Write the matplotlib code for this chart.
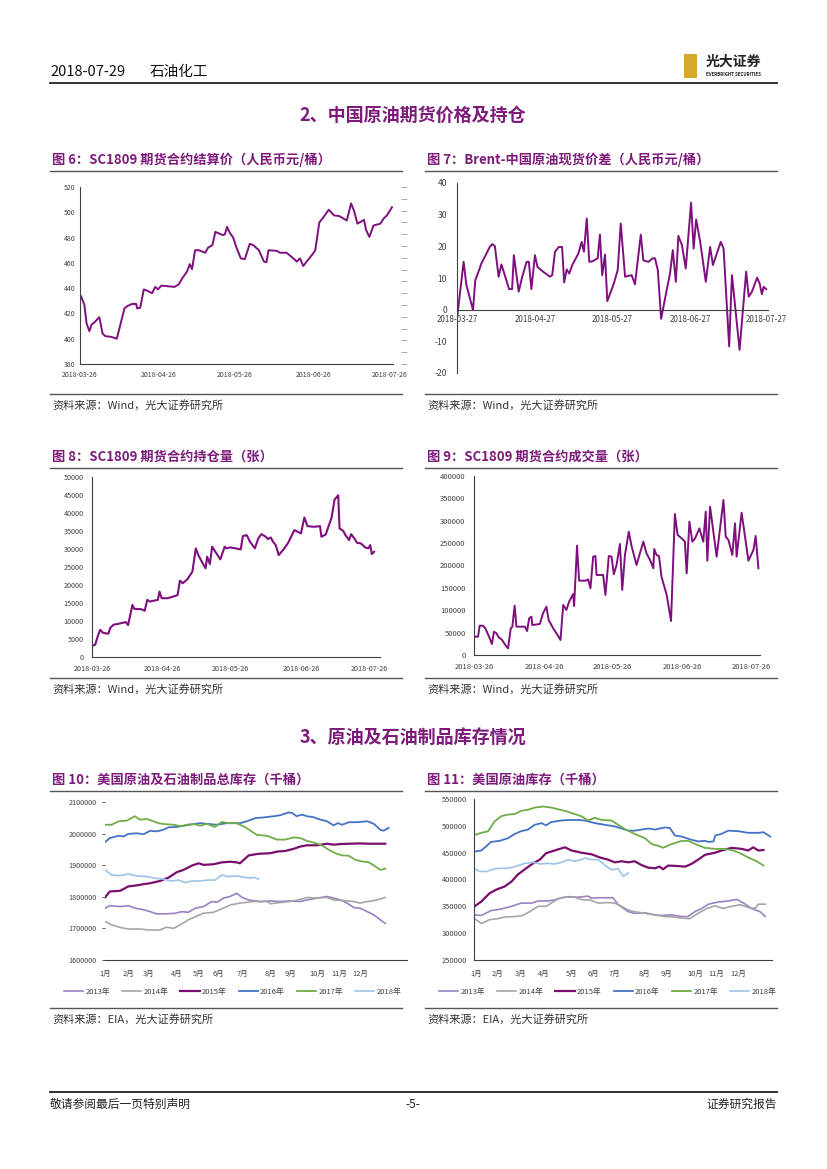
import pandas as pd
import matplotlib
matplotlib.use('Agg')
import matplotlib.pyplot as plt
from matplotlib.lines import Line2D
from matplotlib.patches import Rectangle
from matplotlib.ticker import StrMethodFormatter

plt.rcParams['font.family'] = ['Noto Sans CJK SC', 'DejaVu Sans']
plt.rcParams['axes.unicode_minus'] = False

# ---------------- data ----------------
# fig 6: SC1809 settlement price, days since 2018-03-26
days6 = [0.4, 1.7, 2.6, 3.7, 4.5, 5.7, 7.6, 8.9, 10, 12.2, 14.5, 15.5, 17.5, 18.8, 20.5, 22.1, 22.5, 23.7,
         25.1, 26.4, 28.4, 29.6, 30.7, 32, 37.2, 38.9, 40.3, 42.1, 43.2, 44.1, 45.3, 46.8, 49.3, 50.4, 52.1,
         53.3, 56.1, 57, 57.9, 58.9, 60.3, 61.6, 63.3, 64.9, 66.8, 68.2, 70.4, 72.4, 73.4, 74.2, 77.4, 78.7,
         81.3, 84.6, 85.3, 86.6, 87.9, 89.2, 90.8, 91.8, 92.6, 94.2, 95.8, 97.9, 100, 102.1, 105, 106.7,
         107.9, 109.2, 111.8, 112.6, 113.9, 115.5, 118.2, 119.5, 120.8, 122.8]
price6 = [433.5, 427, 412, 406, 411, 413, 417, 404, 402, 401.5, 400, 408, 424, 426, 427.5, 427.5, 424, 424.5,
          439, 438, 436, 441, 439, 442, 441, 443, 448, 453, 459, 455, 470, 470, 468, 472, 474,
          484.5, 482, 482.5, 488.5, 484, 480, 472, 463.5, 463, 475, 474, 470, 461, 460.5, 470, 469.5, 468,
          468, 462.5, 461, 463.5, 457.5, 461, 465, 467.5, 470, 492, 496, 502, 497.5, 497, 493.5, 507,
          501, 491, 494, 486, 480.5, 489.5, 491, 495, 497.5, 504]
ticks6 = ['2018-03-26', '2018-04-26', '2018-05-26', '2018-06-26', '2018-07-26']

# fig 7: Brent - China crude spot spread, days since 2018-03-27
days7 = [0.1, 2.6, 3.7, 6.3, 7.2, 8.7, 9.6, 11.6, 12.9, 13.9, 14.9, 16.4, 17.5, 19.2, 20.5, 21.7, 22.4,
         24.3, 25.7, 27.4, 28.3, 29.3, 30.7, 31.7, 33.9, 36.6, 37.5, 38.6, 40.1, 41.4, 42.2, 43.2, 44.2,
         45.4, 46.4, 47.8, 49.1, 50, 51.1, 52.1, 53.4, 55.4, 56.3, 57.2, 58.3, 59.2, 61.6, 63.3, 64.5,
         66.2, 68.8, 70.1, 72.4, 73.4, 75.4, 77, 78, 79.1, 80.4, 82.6, 83.9, 85, 86.2, 87.2, 88.6, 90.1,
         92.2, 93.2, 94.2, 95.8, 98, 99.7, 100.8, 103.9, 105, 107.2, 108.3, 111.3, 112.9, 113.9, 114.9,
         116.2, 118.2, 119.2, 120.1, 120.8, 121.8]
spread7 = [-2.2, 15.1, 7.8, -0.1, 9.3, 12.5, 14.6, 17.7, 19.8, 20.7, 20.1, 10.4, 14.3, 9.9, 6.5, 6.5, 17.2,
           5.7, 10.4, 15.1, 15.1, 6.5, 17.2, 13.5, 12, 10.4, 10.9, 18.3, 19.8, 19.8, 8.6, 12.7, 11.4,
           14.1, 15.6, 17.7, 21.4, 18.3, 28.8, 15.1, 15.3, 16.2, 23.7, 10.9, 17.4, 2.7, 7.8, 12.5, 27.2,
           10.4, 10.9, 8, 23.7, 15.6, 15.1, 16.2, 16.2, 12.5, -2.9, 6.2, 11.4, 18.8, 8.8, 23.3, 20.4, 13,
           33.8, 19.3, 28.5, 21.4, 8.8, 19.8, 14.1, 21.4, 19.3, -11.6, 10.9, -12.7, 2.5, 12, 4.1,
           5.7, 10.1, 8.3, 4.9, 7.2, 6.5]
ticks7 = ['2018-03-27', '2018-04-27', '2018-05-27', '2018-06-27', '2018-07-27']

# fig 8: SC1809 open interest, days since 2018-03-26
days8 = [0.3, 1.4, 2.5, 3.6, 4.6, 5.8, 7.2, 8, 9.4, 11.6, 14.9, 15.9, 17.8, 18.6, 21.7, 23.2, 24.3, 25.4,
         27.5, 29, 29.7, 30.7, 33.3, 36.7, 37.7, 38.7, 39.9, 42, 44.2, 45.7, 46.8, 48.6, 50, 50.7, 51.9,
         52.9, 54.3, 56.5, 58.4, 59.1, 60.9, 65.5, 66.4, 68.1, 69.6, 71.7, 73.2, 74.6, 76.5, 77.5, 78.7,
         79.7, 80.9, 82.2, 84.1, 86.2, 89.1, 92, 93.5, 94.9, 97.8, 100.4, 101, 102.9, 105.5, 106.8, 108.4,
         109, 110.6, 111.6, 113.2, 114.1, 115.5, 116.7, 118.4, 120.3, 121.7, 122.5, 123.2, 124.2]
oi8 = [3140, 3400, 5700, 7560, 6800, 6600, 6460, 8030, 8950, 9220, 9690, 8860, 14480, 13380, 13280, 12820,
       15870, 15400, 15680, 15870, 18170, 16330, 16330, 16970, 17250, 21220, 20480, 21590, 23710, 30170,
       28320, 26200, 24630, 27860, 25830, 30630, 29240, 27120, 30630, 30170, 30440, 29890, 33580, 33860,
       32010, 30170, 32930, 34130, 33400, 32750, 33210, 32010, 31090, 28320, 29700, 31550, 35240, 34320,
       38740, 36350, 36170, 36350, 33400, 34040, 38740, 43730, 44920, 35700, 35050, 33860, 32470, 34130,
       32930, 31730, 31550, 30440, 30170, 31090, 28600, 29240]
ticks8 = ['2018-03-26', '2018-04-26', '2018-05-26', '2018-06-26', '2018-07-26']

# fig 9: SC1809 volume, days since 2018-03-26
days9 = [0.3, 1.8, 2.5, 4, 5, 6.5, 7.9, 8.8, 9.9, 10.9, 12.4, 13.8, 15, 16.2, 16.9, 17.9, 18.7, 22.4, 23.4,
         24.3, 25.3, 25.7, 29, 30.4, 31.9, 32.9, 34.9, 36.8, 38.1, 39.3, 40.7, 41.9, 43.7, 44.1, 45.4, 46.3,
         49.3, 50.3, 51.3, 52.5, 53.5, 54, 56.9, 57.9, 59.4, 60.6, 61.6, 62.8, 64.3, 65.3, 66.5, 68.2, 69.4,
         71.6, 74.6, 76, 77.9, 79, 79.4, 80.4, 81.5, 82.6, 84.9, 86.8, 88.5, 89.7, 91.5, 92.9, 93.7, 94.9,
         96.2, 97.4, 99.3, 101, 102.1, 102.8, 104, 106.9, 109.9, 110.9, 112.1, 113.8, 115, 115.7, 117.9,
         120.9, 123.1, 124.1, 125.3]
vol9 = [41000, 41000, 65500, 65500, 59600, 42500, 24600, 52100, 48400, 39500, 33500, 22300, 14900, 59600,
        63300, 110200, 63300, 63300, 53600, 81900, 85700, 67000, 69300, 93100, 108000, 78200, 59600, 44700,
        33500, 111700, 100600, 119200, 136300, 109500, 244300, 166100, 166100, 169100, 149000, 219700,
        221200, 178800, 178800, 134100, 221200, 219700, 180300, 201100, 248000, 145300, 223500, 275600,
        243600, 201100, 253300, 227200, 208600, 193700, 236900, 223500, 221200, 175000, 134100, 76000,
        315100, 268200, 260700, 253300, 182500, 298000, 253300, 260700, 283100, 253300, 320300, 210800,
        331500, 219700, 346400, 264400, 257000, 223500, 294200, 219700, 318100, 210800, 234600, 265900,
        193700]
ticks9 = ['2018-03-26', '2018-04-26', '2018-05-26', '2018-06-26', '2018-07-26']

# fig 10: US crude + products total stocks (千桶), x = week of year
years = ['2013年', '2014年', '2015年', '2016年', '2017年', '2018年']
wk10_2013 = [0, 0.9, 2.8, 4.3, 5.5, 7.1, 8.3, 9.5, 11.3, 12.9, 14.1, 15.3, 16.6, 18.1, 19.6, 20.6, 21.8, 23,
             24.2, 25.2, 26.4, 28.5, 30.4, 32.2, 34, 35.9, 37.1, 39, 40.8, 42, 43.3, 44.5, 45.7, 46.9, 48.2,
             49.4, 50.6, 51.5]
st10_2013 = [1764000, 1772000, 1769000, 1772000, 1764000, 1759000, 1753000, 1746000, 1746000, 1748000,
             1753000, 1751000, 1764000, 1769000, 1785000, 1783000, 1796000, 1801000, 1811000, 1798000,
             1790000, 1785000, 1787000, 1785000, 1787000, 1785000, 1790000, 1796000, 1801000, 1796000,
             1790000, 1780000, 1766000, 1764000, 1753000, 1743000, 1727000, 1716000]
wk10_2014 = [0, 1.2, 2.8, 4.3, 6.4, 8, 10.1, 11.3, 12.6, 13.8, 15.3, 16.6, 18.1, 19.9, 21.5, 23, 24.8, 27.3,
             29.8, 30.4, 32.2, 34, 35.9, 37.1, 39, 40.8, 42, 43.9, 45.7, 46.9, 48.2, 49.4, 50.6, 51.5]
st10_2014 = [1722000, 1711000, 1703000, 1698000, 1698000, 1695000, 1695000, 1704000, 1700000, 1711000,
             1727000, 1737000, 1748000, 1751000, 1762000, 1774000, 1780000, 1785000, 1785000, 1778000,
             1782000, 1785000, 1792000, 1798000, 1796000, 1798000, 1790000, 1788000, 1785000, 1780000,
             1785000, 1788000, 1793000, 1798000]
wk10_2015 = [0, 0.9, 2.8, 4.3, 5.8, 7.1, 8.3, 10.1, 11.7, 13.2, 14.4, 16, 17.2, 18.1, 19.9, 21.5, 23, 24.2,
             24.8, 26.4, 28.2, 30.4, 31.6, 33.1, 34.7, 35.9, 37.1, 39, 40.8, 42, 43.3, 45.1, 46.9, 48.5, 50,
             51.5]
st10_2015 = [1798000, 1817000, 1819000, 1833000, 1836000, 1840000, 1843000, 1850000, 1861000, 1878000,
             1885000, 1899000, 1906000, 1901000, 1903000, 1909000, 1911000, 1909000, 1906000, 1931000,
             1936000, 1938000, 1943000, 1945000, 1952000, 1959000, 1963000, 1963000, 1968000, 1965000,
             1967000, 1968000, 1969000, 1968000, 1968000, 1968000]
wk10_2016 = [0, 0.9, 2.5, 3.4, 4.3, 5.8, 7.1, 8.3, 9.5, 10.7, 11.7, 13.2, 14.4, 16.3, 17.5, 19.3, 20.6, 22.4,
             24.8, 26.1, 27.6, 29.1, 31, 32.2, 33.7, 34.4, 35.2, 36.2, 37.1, 38.3, 39.6, 40.8, 42, 42.8, 43.6,
             44.8, 46.3, 48.2, 49.4, 50.6, 51.2, 52.1]
st10_2016 = [1973000, 1986000, 1993000, 1991000, 1999000, 2001000, 1998000, 2009000, 2007000, 2012000,
             2020000, 2021000, 2025000, 2030000, 2033000, 2030000, 2028000, 2033000, 2033000, 2039000,
             2049000, 2051000, 2055000, 2058000, 2067000, 2065000, 2055000, 2060000, 2055000, 2052000,
             2044000, 2039000, 2026000, 2033000, 2028000, 2036000, 2036000, 2039000, 2031000, 2012000,
             2009000, 2018000]
wk10_2017 = [0, 1.2, 2.5, 4, 5.5, 6.4, 7.7, 8.9, 9.8, 11, 12.6, 14.1, 15, 16.3, 17.5, 18.7, 20.2, 21.5, 22.7,
             24.2, 25.8, 27.9, 29.8, 31.6, 33.1, 34.7, 35.9, 37.1, 38.7, 39.9, 41.1, 42.3, 43.6, 44.8, 46,
             47.2, 48.5, 49.7, 50.6, 51.5]
st10_2017 = [2028000, 2028000, 2039000, 2041000, 2055000, 2044000, 2046000, 2039000, 2033000, 2030000,
             2028000, 2023000, 2028000, 2030000, 2025000, 2031000, 2021000, 2037000, 2033000, 2033000,
             2020000, 1996000, 1993000, 1981000, 1981000, 1988000, 1986000, 1977000, 1970000, 1962000,
             1949000, 1938000, 1931000, 1930000, 1917000, 1912000, 1909000, 1896000, 1885000, 1889000]
wk10_2018 = [0, 1.2, 2.8, 4.3, 5.8, 7.7, 9.2, 10.7, 12.3, 13.5, 14.7, 16, 17.5, 19, 20.2, 21.5, 22.7, 24.2,
             25.5, 26.7, 27.3, 28.2]
st10_2018 = [1885000, 1869000, 1867000, 1872000, 1866000, 1864000, 1859000, 1856000, 1850000, 1853000,
             1845000, 1850000, 1850000, 1853000, 1853000, 1869000, 1864000, 1866000, 1862000, 1859000,
             1862000, 1856000]
months = ['1月', '2月', '3月', '4月', '5月', '6月', '7月', '8月', '9月', '10月', '11月', '12月']
month_wk10 = [0, 4.3, 8, 13.2, 17.2, 20.9, 25.2, 30.4, 34, 39, 43, 47]

# fig 11: US crude stocks (千桶)
wk11_2013 = [0, 1.2, 2.9, 4.7, 6.5, 8.2, 10, 11.2, 12.9, 14.1, 15.3, 16.5, 18.2, 20, 20.6, 21.8, 22.9, 24.4,
             25.3, 27.1, 28.2, 30, 31.8, 32.9, 34.7, 36.5, 37.6, 38.8, 40, 41.2, 42.9, 44.7, 46.2, 47.4, 48.8,
             50.3, 51.2]
st11_2013 = [334000, 333000, 342000, 345000, 350000, 356000, 356000, 360000, 360000, 362000, 366000, 368000,
             367000, 369000, 365000, 366000, 366000, 366000, 353000, 340000, 337000, 338000, 334000, 333000,
             334000, 331000, 331000, 340000, 346000, 354000, 358000, 360000, 363000, 356000, 346000, 340000,
             331000]
wk11_2014 = [0, 1.2, 2.6, 4.1, 5.3, 7.1, 8.5, 9.7, 11.2, 12.6, 13.5, 14.7, 15.9, 17.6, 19.1, 20.3, 21.8, 23.5,
             24.7, 25.9, 27.1, 28.2, 30, 31.8, 33.5, 35.3, 36.5, 37.9, 39.4, 40.9, 42.4, 43.8, 45.3, 46.8, 48.2,
             49.4, 50, 51.2]
st11_2014 = [327000, 318000, 325000, 327000, 330000, 331000, 333000, 340000, 350000, 350000, 356000, 364000,
             367000, 367000, 362000, 362000, 356000, 357000, 356000, 350000, 343000, 340000, 337000, 334000,
             331000, 330000, 328000, 327000, 337000, 346000, 351000, 346000, 350000, 353000, 348000, 346000,
             354000, 354000]
wk11_2015 = [0, 1.2, 2.6, 3.8, 5.3, 6.5, 7.6, 9.1, 10.3, 11.5, 12.6, 14.1, 15.9, 17.1, 18.8, 20.6, 22.1, 23.5,
             24.7, 25.9, 27.1, 28.2, 29.4, 30.6, 31.8, 32.6, 33.2, 34.1, 35.9, 37.1, 38.2, 39.4, 40.6, 42.4,
             43.8, 45.3, 47.1, 48.2, 49.1, 50, 50.9]
st11_2015 = [350000, 359000, 374000, 381000, 387000, 396000, 409000, 421000, 430000, 437000, 449000, 454000,
             460000, 454000, 450000, 447000, 441000, 437000, 432000, 434000, 432000, 434000, 427000, 422000,
             421000, 424000, 419000, 426000, 425000, 424000, 429000, 437000, 446000, 450000, 455000, 459000,
             457000, 454000, 460000, 454000, 455000]
wk11_2016 = [0, 1.2, 2.9, 4.4, 5.9, 7.1, 8.2, 9.4, 10.6, 11.8, 12.6, 13.5, 15.3, 16.8, 18.2, 19.4, 21.2, 22.9,
             24.7, 25.9, 27.1, 28.2, 30.6, 31.8, 33.5, 34.4, 35.3, 36.5, 38.2, 39.4, 40.6, 41.2, 42.1, 42.4,
             43.5, 44.7, 46.5, 48.2, 50, 50.9, 52.1]
st11_2016 = [452000, 454000, 470000, 472000, 477000, 485000, 490000, 493000, 502000, 505000, 501000, 507000,
             510000, 511000, 511000, 510000, 505000, 502000, 499000, 495000, 491000, 491000, 495000, 493000,
             497000, 496000, 482000, 480000, 474000, 471000, 472000, 470000, 471000, 482000, 485000, 491000,
             490000, 487000, 487000, 488000, 480000]
wk11_2017 = [0, 1.2, 2.4, 3.5, 4.7, 5.9, 7.1, 8.2, 9.4, 10.6, 12.1, 13.5, 14.7, 16.2, 17.6, 18.8, 20, 21.2,
             22.4, 24.1, 25.3, 26.5, 28.2, 30, 31.2, 32.6, 33.2, 34.7, 36.5, 37.6, 39.1, 40.6, 42.4, 43.8,
             45.3, 46.8, 48.2, 49.7, 50.9]
st11_2017 = [483000, 487000, 490000, 508000, 518000, 521000, 522000, 528000, 530000, 534000, 536000, 534000,
             531000, 527000, 522000, 518000, 510000, 515000, 511000, 510000, 502000, 494000, 485000, 477000,
             466000, 462000, 459000, 466000, 472000, 472000, 465000, 459000, 457000, 457000, 455000, 449000,
             441000, 434000, 426000]
wk11_2018 = [0, 0.9, 2.1, 3.5, 4.7, 5.9, 7.1, 8.8, 10.3, 11.5, 12.9, 14.1, 15.3, 16.5, 17.6, 18.8, 19.4, 20.6,
             21.8, 22.9, 24.1, 25.3, 26.2, 27.1]
st11_2018 = [420000, 415000, 415000, 420000, 421000, 421000, 424000, 430000, 432000, 429000, 430000, 429000,
             432000, 437000, 434000, 437000, 440000, 437000, 437000, 427000, 418000, 420000, 406000, 412000]
month_wk11 = [0.3, 4.1, 8.1, 12.1, 17.1, 20.9, 24.7, 30, 33.8, 38.8, 42.6, 46.5]

year_colors = ['#9B80C4', '#A6A6A6', '#7A0E6E', '#4472C4', '#70AD47', '#9DC3E6']
year_widths = [1.2, 1.2, 1.6, 1.3, 1.3, 1.2]

# ---------------- page layout ----------------
W, H = 827, 1169
PURPLE = '#7F0F7E'
TITLE = '#7D1B7B'
AXC = '#404040'

fig = plt.figure(figsize=(W / 100, H / 100), dpi=100)


def px_axes(l, t, r, b):
    return fig.add_axes([l / W, 1 - b / H, (r - l) / W, (b - t) / H])


def ftext(x, y, s, **kw):
    fig.text(x / W, 1 - y / H, s, **kw)


def hline(x0, x1, y, lw=0.8, color='#333333'):
    fig.add_artist(Line2D([x0 / W, x1 / W], [1 - y / H, 1 - y / H], lw=lw, color=color,
                          transform=fig.transFigure))


def style(ax, fs):
    ax.set_facecolor('none')
    for s in ['top', 'right']:
        ax.spines[s].set_visible(False)
    for s in ['left', 'bottom']:
        ax.spines[s].set_color(AXC)
        ax.spines[s].set_linewidth(0.8)
    ax.tick_params(labelsize=fs, colors=AXC, length=0)


def chart_frame(x0, x1, y_title, y_src, title, src):
    ftext(x0 + 2, y_title, title, fontsize=9.5, fontweight='bold', color=TITLE, va='center')
    hline(x0, x1, y_title + 11, lw=1.0, color='#555555')
    hline(x0, x1, y_src, lw=1.0, color='#555555')
    ftext(x0 + 2, y_src + 11, src, fontsize=8, color='#333333', va='center')


# header
ftext(50, 72, '2018-07-29', fontsize=10.5, color='#111111', va='center')
ftext(150, 72, '石油化工', fontsize=10.5, color='#111111', va='center')
hline(50, 777, 83, lw=1.3, color='#222222')
fig.add_artist(Rectangle((684 / W, 1 - 78 / H), 13 / W, 24 / H, transform=fig.transFigure,
                         facecolor='#D9A82B', edgecolor='none'))
ftext(706, 62, '光大证券', fontsize=10, fontweight='bold', color='#222222', va='center')
ftext(706, 74, 'EVERBRIGHT SECURITIES', fontsize=3.2, fontweight='bold', color='#222222', va='center')

# section titles
ftext(413, 115, '2、中国原油期货价格及持仓', fontsize=13, fontweight='bold', color=TITLE,
      ha='center', va='center')
ftext(413, 738, '3、原油及石油制品库存情况', fontsize=13, fontweight='bold', color=TITLE,
      ha='center', va='center')

# footer
hline(50, 777, 1092, lw=1.3, color='#222222')
ftext(50, 1104, '敬请参阅最后一页特别声明', fontsize=8.5, color='#222222', va='center')
ftext(413, 1104, '-5-', fontsize=8.5, color='#222222', va='center', ha='center')
ftext(777, 1104, '证券研究报告', fontsize=8.5, color='#222222', va='center', ha='right')

# ---------------- fig 6 ----------------
chart_frame(50, 402, 160, 394, '图 6：SC1809 期货合约结算价（人民币元/桶）', '资料来源：Wind，光大证券研究所')
ax6 = px_axes(80, 187, 393, 364)
style(ax6, 5)
start6 = pd.Timestamp(ticks6[0])
ax6.plot(start6 + pd.to_timedelta(days6, unit='D'), price6, color=PURPLE, lw=1.4)
ax6.set_ylim(380, 520)
ax6.set_yticks(range(380, 521, 20))
ax6.set_xlim(start6, start6 + pd.Timedelta(days=123.2))
ax6.set_xticks(pd.to_datetime(ticks6))
ax6.set_xticklabels(ticks6)
ax6.tick_params(axis='x', pad=5)
ax6.tick_params(axis='y', pad=3)
ax6b = ax6.twinx()
ax6b.set_ylim(1.2, 14.8)
ax6b.set_yticks(range(16))
ax6b.set_yticklabels([])
for s in ax6b.spines.values():
    s.set_visible(False)
ax6b.spines['right'].set_position(('outward', 8))
ax6b.tick_params(axis='y', direction='inout', length=4, width=0.6, color='#9A9A9A')

# ---------------- fig 7 ----------------
chart_frame(425, 777, 160, 394, '图 7：Brent-中国原油现货价差（人民币元/桶）', '资料来源：Wind，光大证券研究所')
ax7 = px_axes(457, 183, 768, 373)
style(ax7, 6.2)
start7 = pd.Timestamp(ticks7[0])
ax7.plot(start7 + pd.to_timedelta(days7, unit='D'), spread7, color=PURPLE, lw=1.4)
ax7.set_ylim(-20, 40)
ax7.set_yticks(range(-20, 41, 10))
ax7.spines['bottom'].set_position(('data', 0))
ax7.set_xlim(start7, start7 + pd.Timedelta(days=122.5))
ax7.set_xticks(pd.to_datetime(ticks7))
ax7.set_xticklabels(ticks7)
ax7.tick_params(axis='x', pad=4, labelsize=5.8)
ax7.tick_params(axis='y', pad=7)

# ---------------- fig 8 ----------------
chart_frame(50, 402, 457, 678, '图 8：SC1809 期货合约持仓量（张）', '资料来源：Wind，光大证券研究所')
ax8 = px_axes(92, 477, 380, 657)
style(ax8, 5.2)
start8 = pd.Timestamp(ticks8[0])
ax8.plot(start8 + pd.to_timedelta(days8, unit='D'), oi8, color=PURPLE, lw=1.5)
ax8.set_ylim(0, 50000)
ax8.set_yticks(range(0, 50001, 5000))
ax8.set_xlim(start8, start8 + pd.Timedelta(days=126.8))
ax8.set_xticks(pd.to_datetime(ticks8))
ax8.set_xticklabels(ticks8)
ax8.tick_params(axis='x', pad=6)
ax8.tick_params(axis='y', pad=6)

# ---------------- fig 9 ----------------
chart_frame(425, 777, 457, 678, '图 9：SC1809 期货合约成交量（张）', '资料来源：Wind，光大证券研究所')
ax9 = px_axes(474, 476, 760, 655)
style(ax9, 5.5)
start9 = pd.Timestamp(ticks9[0])
ax9.plot(start9 + pd.to_timedelta(days9, unit='D'), vol9, color=PURPLE, lw=1.4)
ax9.set_ylim(0, 400000)
ax9.set_yticks(range(0, 400001, 50000))
ax9.set_xlim(start9, start9 + pd.Timedelta(days=126))
ax9.set_xticks(pd.to_datetime(ticks9))
ax9.set_xticklabels(ticks9)
ax9.tick_params(axis='x', pad=6)
ax9.tick_params(axis='y', pad=6)

# ---------------- fig 10 ----------------
chart_frame(50, 402, 780, 1008, '图 10：美国原油及石油制品总库存（千桶）', '资料来源：EIA，光大证券研究所')
ax10 = px_axes(105, 802, 407, 960)
style(ax10, 5.2)
ax10.spines['left'].set_visible(False)
series10 = [(wk10_2013, st10_2013), (wk10_2014, st10_2014), (wk10_2015, st10_2015),
            (wk10_2016, st10_2016), (wk10_2017, st10_2017), (wk10_2018, st10_2018)]
for (wk, st), lab, c, lw in zip(series10, years, year_colors, year_widths):
    ax10.plot(wk, st, color=c, lw=lw, label=lab)
ax10.set_xlim(0, 55.5)
ax10.set_ylim(1600000, 2100000)
ax10.set_yticks(range(1600000, 2100001, 100000))
ax10.yaxis.set_major_formatter(StrMethodFormatter('{x:.0f}'))
ax10.set_xticks(month_wk10)
ax10.set_xticklabels(months)
ax10.tick_params(axis='y', length=2, width=0.6, pad=4)
ax10.tick_params(axis='x', pad=7, labelsize=5.4)
ax10.legend(loc='center left', bbox_to_anchor=(64 / W, 1 - 992 / H), bbox_transform=fig.transFigure,
            ncol=6, frameon=False, fontsize=5.5, handlelength=2.5, handletextpad=0.3,
            columnspacing=1.6, borderaxespad=0, borderpad=0, labelcolor=AXC)

# ---------------- fig 11 ----------------
chart_frame(425, 777, 780, 1008, '图 11：美国原油库存（千桶）', '资料来源：EIA，光大证券研究所')
ax11 = px_axes(474, 799, 772, 960)
style(ax11, 5.4)
series11 = [(wk11_2013, st11_2013), (wk11_2014, st11_2014), (wk11_2015, st11_2015),
            (wk11_2016, st11_2016), (wk11_2017, st11_2017), (wk11_2018, st11_2018)]
for (wk, st), lab, c, lw in zip(series11, years, year_colors, year_widths):
    ax11.plot(wk, st, color=c, lw=lw, label=lab)
ax11.set_xlim(-0.1, 52.4)
ax11.set_ylim(250000, 550000)
ax11.set_yticks(range(250000, 550001, 50000))
ax11.yaxis.set_major_formatter(StrMethodFormatter('{x:.0f}'))
ax11.set_xticks(month_wk11)
ax11.set_xticklabels(months)
ax11.tick_params(axis='y', pad=5)
ax11.tick_params(axis='x', pad=7, labelsize=5.4)
ax11.legend(loc='center left', bbox_to_anchor=(439 / W, 1 - 992 / H), bbox_transform=fig.transFigure,
            ncol=6, frameon=False, fontsize=5.5, handlelength=2.5, handletextpad=0.3,
            columnspacing=1.6, borderaxespad=0, borderpad=0, labelcolor=AXC)

fig.savefig('out.png', dpi=100)
